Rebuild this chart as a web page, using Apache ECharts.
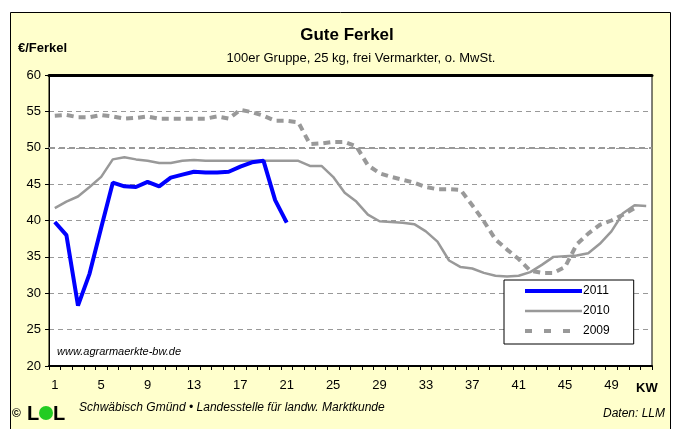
<!DOCTYPE html>
<html>
<head>
<meta charset="utf-8">
<script src="https://cdn.jsdelivr.net/npm/echarts@6.0.0/dist/echarts.min.js"></script>
<style>
html, body { margin: 0; padding: 0; background: #fff; }
#ferkel { width: 680px; height: 429px; }
</style>
</head>
<body>
<div id="ferkel"></div>
<script>
// Kalenderwochen
const weeks = ['1', '2', '3', '4', '5', '6', '7', '8', '9', '10', '11', '12', '13',
    '14', '15', '16', '17', '18', '19', '20', '21', '22', '23', '24', '25', '26',
    '27', '28', '29', '30', '31', '32', '33', '34', '35', '36', '37', '38', '39',
    '40', '41', '42', '43', '44', '45', '46', '47', '48', '49', '50', '51', '52'];

// €/Ferkel je Woche
const price2011 = [39.8, 38.0, 28.3, 32.7, 39.0, 45.2, 44.7, 44.6, 45.3, 44.7,
    45.9, 46.3, 46.7, 46.6, 46.6, 46.7, 47.4, 48.0, 48.2, 42.8, 39.7];

const price2010 = [41.7, 42.6, 43.3, 44.6, 46.0, 48.4, 48.7, 48.4, 48.2, 47.9,
    47.9, 48.2, 48.3, 48.2, 48.2, 48.2, 48.2, 48.2, 48.2, 48.2,
    48.2, 48.2, 47.5, 47.5, 46.0, 43.8, 42.6, 40.8, 39.9, 39.8,
    39.7, 39.5, 38.5, 37.1, 34.5, 33.6, 33.4, 32.8, 32.4, 32.3,
    32.4, 32.9, 33.9, 35.0, 35.1, 35.2, 35.5, 36.8, 38.5, 41.0, 42.1, 42.0];

const price2009 = [54.4, 54.5, 54.2, 54.2, 54.5, 54.3, 54.0, 54.1, 54.3, 54.0,
    54.0, 54.0, 54.0, 54.0, 54.3, 54.0, 55.2, 54.9, 54.4, 53.7,
    53.7, 53.5, 50.5, 50.6, 50.8, 50.8, 50.2, 47.6, 46.5, 46.0,
    45.6, 45.2, 44.6, 44.3, 44.3, 44.2, 42.1, 39.9, 37.4, 36.0,
    34.7, 33.1, 32.8, 32.8, 33.6, 36.7, 38.2, 39.4, 40.0, 40.8, 41.7];

const yTicks = { min: 20, max: 60, step: 5 };

const chartDom = document.getElementById('ferkel');
const myChart = echarts.init(chartDom);
const font = 'Liberation Sans, Arial, sans-serif';

let option = {
    animation: false,
    textStyle: { fontFamily: font },
    grid: {
        left: 49,
        right: 28,
        top: 75,
        bottom: 63,
        show: true,
        backgroundColor: '#ffffff',
        borderColor: '#000000',
        borderWidth: 1
    },
    graphic: [
        // gelber Rahmen
        {
            type: 'rect', z: -100, silent: true,
            shape: { x: 10.5, y: 12.5, width: 660, height: 420 },
            style: { fill: '#ffffcc', stroke: '#000000', lineWidth: 1 }
        },
        {
            type: 'text', silent: true, x: 347, y: 35,
            style: { text: 'Gute Ferkel', font: 'bold 17px ' + font, fill: '#000', align: 'center', verticalAlign: 'middle' }
        },
        {
            type: 'text', silent: true, x: 361, y: 58,
            style: {
                text: '100er Gruppe, 25 kg, frei Vermarkter, o. MwSt.',
                font: '13px ' + font, fill: '#000', align: 'center', verticalAlign: 'middle'
            }
        },
        {
            type: 'text', silent: true, x: 18, y: 48,
            style: { text: '€/Ferkel', font: 'bold 13px ' + font, fill: '#000', verticalAlign: 'middle' }
        },
        {
            type: 'text', silent: true, x: 636, y: 388,
            style: { text: 'KW', font: 'bold 13px ' + font, fill: '#000', verticalAlign: 'middle' }
        },
        {
            type: 'text', silent: true, x: 57, y: 352,
            style: { text: 'www.agrarmaerkte-bw.de', font: 'italic 11px ' + font, fill: '#000', verticalAlign: 'middle' }
        },
        // Fußzeile
        {
            type: 'text', silent: true, x: 12, y: 414,
            style: { text: '©', font: 'bold 12px ' + font, fill: '#000', verticalAlign: 'middle' }
        },
        {
            type: 'text', silent: true, x: 27, y: 414,
            style: { text: 'L', font: 'bold 20px ' + font, fill: '#000', verticalAlign: 'middle' }
        },
        {
            type: 'circle', silent: true,
            shape: { cx: 46, cy: 413, r: 7 },
            style: { fill: '#22cc22' }
        },
        {
            type: 'text', silent: true, x: 53, y: 414,
            style: { text: 'L', font: 'bold 20px ' + font, fill: '#000', verticalAlign: 'middle' }
        },
        {
            type: 'text', silent: true, x: 79, y: 408,
            style: {
                text: 'Schwäbisch Gmünd • Landesstelle für landw. Marktkunde',
                font: 'italic 12px ' + font, fill: '#000', verticalAlign: 'middle'
            }
        },
        {
            type: 'text', silent: true, x: 665, y: 414,
            style: { text: 'Daten: LLM', font: 'italic 12px ' + font, fill: '#000', align: 'right', verticalAlign: 'middle' }
        }
    ],
    legend: {
        orient: 'vertical',
        left: 504,
        top: 280,
        padding: [5, 24, 7, 19],
        itemWidth: 57,
        itemHeight: 12,
        itemGap: 8,
        backgroundColor: '#ffffff',
        borderColor: '#000000',
        borderWidth: 1,
        borderRadius: 0,
        itemStyle: { opacity: 0, borderWidth: 0 },
        textStyle: { fontSize: 12, color: '#000', padding: [0, 0, 0, -4] },
        data: [
            { name: '2011', lineStyle: { width: 4 } },
            { name: '2010', lineStyle: { width: 2.5 } },
            { name: '2009', lineStyle: { width: 4, type: [7, 12] } }
        ]
    },
    xAxis: [
        {
            type: 'category',
            data: weeks,
            boundaryGap: true,
            axisLine: { lineStyle: { color: '#000', width: 2 } },
            axisTick: { show: true, interval: 0, length: 4, lineStyle: { color: '#000' } },
            axisLabel: { interval: 3, color: '#000', fontSize: 13, margin: 13 },
            splitLine: { show: false }
        },
        {
            type: 'category',
            data: weeks,
            position: 'top',
            axisLine: { lineStyle: { color: '#000', width: 3 } },
            axisTick: { show: false },
            axisLabel: { show: false }
        }
    ],
    yAxis: {
        type: 'value',
        min: yTicks.min,
        max: yTicks.max,
        interval: yTicks.step,
        axisLine: { show: true, lineStyle: { color: '#000', width: 1 } },
        axisTick: { show: true, length: 4, lineStyle: { color: '#000' } },
        axisLabel: { color: '#000', fontSize: 13, margin: 8 },
        splitLine: { lineStyle: { type: [5, 4], color: '#999999', width: 1 } }
    },
    series: [
        {
            name: '2009',
            type: 'line',
            data: price2009,
            symbol: 'none',
            z: 2,
            lineStyle: { color: '#999999', width: 4, type: [7, 5] },
            itemStyle: { color: '#999999' },
            markLine: {
                silent: true,
                symbol: 'none',
                label: { show: false },
                lineStyle: { color: '#999999', width: 2, type: [6, 4] },
                data: [{ yAxis: 50 }]
            }
        },
        {
            name: '2010',
            type: 'line',
            data: price2010,
            symbol: 'none',
            z: 3,
            lineStyle: { color: '#999999', width: 2.5 },
            itemStyle: { color: '#999999' }
        },
        {
            name: '2011',
            type: 'line',
            data: price2011,
            symbol: 'none',
            z: 4,
            lineStyle: { color: '#0000ff', width: 4 },
            itemStyle: { color: '#0000ff' }
        }
    ]
};

option && myChart.setOption(option);
</script>
</body>
</html>
